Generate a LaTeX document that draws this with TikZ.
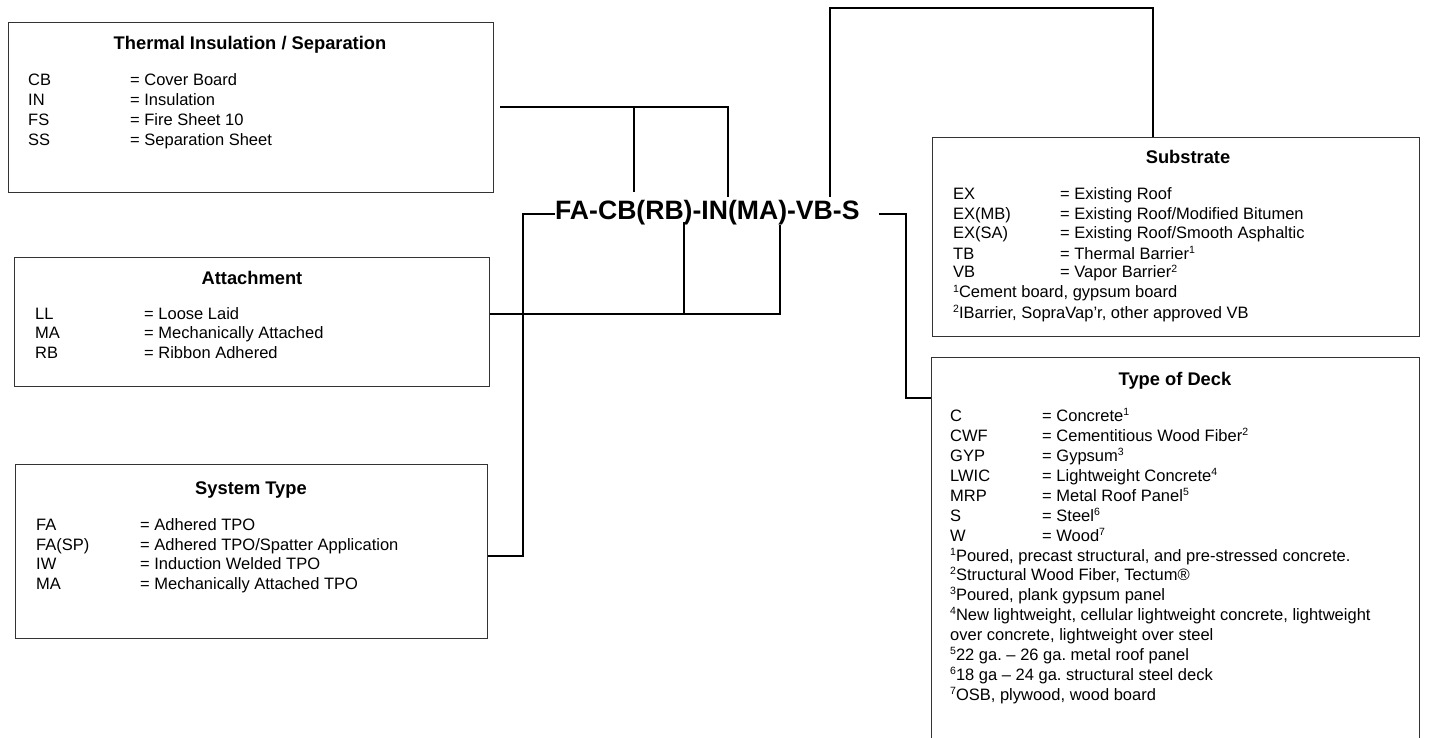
\documentclass[tikz,border=0pt]{standalone}
\usepackage{fontspec}
\setmainfont{Liberation Sans}
\newcommand\fn[1]{\raisebox{5.5pt}{\fontsize{10.5}{11}\selectfont #1}}
\begin{document}
\frenchspacing
\begin{tikzpicture}[x=1pt,y=-1pt,
  box/.style={draw=black!80, line width=1.1pt, anchor=north west, inner sep=0},
  conn/.style={draw=black, line width=1.8pt},
  ttl/.style={anchor=base, inner sep=0, font=\fontsize{18.3}{21}\selectfont\bfseries},
  row/.style={anchor=base west, inner sep=0, font=\fontsize{16.5}{19}\selectfont},
  code/.style={anchor=base west, inner sep=0, font=\fontsize{26.6}{30}\selectfont\bfseries}]
\useasboundingbox (0,0) rectangle (1449,738);
\fill[white] (0,0) rectangle (1449,738);

% ---------- boxes ----------
\node[box, minimum width=485pt, minimum height=170pt] (therm) at (8,22) {};
\node[box, minimum width=475pt, minimum height=129pt] (attach) at (14,257) {};
\node[box, minimum width=472pt, minimum height=174pt] (system) at (15,464) {};
\node[box, minimum width=487pt, minimum height=199pt] (subst) at (932,137) {};
\node[box, minimum width=488pt, minimum height=400pt] (deck) at (931,357) {};

% ---------- Thermal Insulation ----------
\node[ttl] (thermT) at (250,50) {Thermal Insulation / Separation};
\node[row] (th1a) at (28,86) {CB};  \node[row] (th1b) at (130,86) {= Cover Board};
\node[row] (th2a) at (28,106) {IN}; \node[row] (th2b) at (130,106) {= Insulation};
\node[row] (th3a) at (28,126) {FS}; \node[row] (th3b) at (130,126) {= Fire Sheet 10};
\node[row] (th4a) at (28,146) {SS}; \node[row] (th4b) at (130,146) {= Separation Sheet};

% ---------- Attachment ----------
\node[ttl] (attT) at (252,284) {Attachment};
\node[row] (at1a) at (35,319) {LL}; \node[row] (at1b) at (144,319) {= Loose Laid};
\node[row] (at2a) at (35,338) {MA}; \node[row] (at2b) at (144,338) {= Mechanically Attached};
\node[row] (at3a) at (35,358) {RB}; \node[row] (at3b) at (144,358) {= Ribbon Adhered};

% ---------- System Type ----------
\node[ttl] (sysT) at (251,494) {System Type};
\node[row] (sy1a) at (36,530) {FA};     \node[row] (sy1b) at (140,530) {= Adhered TPO};
\node[row] (sy2a) at (36,550) {FA(SP)}; \node[row] (sy2b) at (140,550) {= Adhered TPO/Spatter Application};
\node[row] (sy3a) at (36,569) {IW};     \node[row] (sy3b) at (140,569) {= Induction Welded TPO};
\node[row] (sy4a) at (36,589) {MA};     \node[row] (sy4b) at (140,589) {= Mechanically Attached TPO};

% ---------- Substrate ----------
\node[ttl] (subT) at (1188,164) {Substrate};
\node[row] (su1a) at (953,200) {EX};     \node[row] (su1b) at (1060,200) {= Existing Roof};
\node[row] (su2a) at (953,220) {EX(MB)}; \node[row] (su2b) at (1060,220) {= Existing Roof/Modified Bitumen};
\node[row] (su3a) at (953,239) {EX(SA)}; \node[row] (su3b) at (1060,239) {= Existing Roof/Smooth Asphaltic};
\node[row] (su4a) at (953,259) {TB};     \node[row] (su4b) at (1060,259) {= Thermal Barrier\fn{1}};
\node[row] (su5a) at (953,278) {VB};     \node[row] (su5b) at (1060,278) {= Vapor Barrier\fn{2}};
\node[row] (su6) at (953,298) {\fn{1}Cement board, gypsum board};
\node[row] (su7) at (953,318) {\fn{2}IBarrier, SopraVap’r, other approved VB};

% ---------- Type of Deck ----------
\node[ttl] (deckT) at (1175,385) {Type of Deck};
\node[row] (de1a) at (950,421) {C};    \node[row] (de1b) at (1042,421) {= Concrete\fn{1}};
\node[row] (de2a) at (950,441) {CWF};  \node[row] (de2b) at (1042,441) {= Cementitious Wood Fiber\fn{2}};
\node[row] (de3a) at (950,461) {GYP};  \node[row] (de3b) at (1042,461) {= Gypsum\fn{3}};
\node[row] (de4a) at (950,481) {LWIC}; \node[row] (de4b) at (1042,481) {= Lightweight Concrete\fn{4}};
\node[row] (de5a) at (950,501) {MRP};  \node[row] (de5b) at (1042,501) {= Metal Roof Panel\fn{5}};
\node[row] (de6a) at (950,521) {S};    \node[row] (de6b) at (1042,521) {= Steel\fn{6}};
\node[row] (de7a) at (950,541) {W};    \node[row] (de7b) at (1042,541) {= Wood\fn{7}};
\node[row] (df1) at (950,561) {\fn{1}Poured, precast structural, and pre-stressed concrete.};
\node[row] (df2) at (950,580) {\fn{2}Structural Wood Fiber, Tectum®};
\node[row] (df3) at (950,600) {\fn{3}Poured, plank gypsum panel};
\node[row] (df4) at (950,620) {\fn{4}New lightweight, cellular lightweight concrete, lightweight};
\node[row] (df4b) at (950,640) {over concrete, lightweight over steel};
\node[row] (df5) at (950,660) {\fn{5}22 ga. – 26 ga. metal roof panel};
\node[row] (df6) at (950,680) {\fn{6}18 ga – 24 ga. structural steel deck};
\node[row] (df7) at (950,700) {\fn{7}OSB, plywood, wood board};

% ---------- central code ----------
\node[code] (code) at (555,220) {FA-CB(RB)-IN(MA)-VB-S};

% ---------- connector points ----------
\coordinate (thA) at (500,107);
\coordinate (thB) at (634,107);
\coordinate (thC) at (728,107);
\coordinate (cbT) at (634,192);
\coordinate (inT) at (728,197);
\coordinate (vbT) at (830,197);
\coordinate (suA) at (830,8);
\coordinate (suB) at (1153,8);
\coordinate (sL) at (879,214);
\coordinate (sA) at (906,214);
\coordinate (sB) at (906,398);
\coordinate (faR) at (555,214);
\coordinate (faA) at (523,214);
\coordinate (faB) at (523,556);
\coordinate (atA) at (684,314);
\coordinate (atB) at (780,314);
\coordinate (rbB) at (684,222);
\coordinate (maB) at (780,225);

% ---------- connectors ----------
\draw[conn] (thA) -- (thC) -- (inT);
\draw[conn] (thB) -- (cbT);
\draw[conn] (vbT) -- (suA) -- (suB) -- (subst.north -| suB);
\draw[conn] (sL) -- (sA) -- (sB) -- (deck.west |- sB);
\draw[conn] (faR) -- (faA) -- (faB) -- (system.east |- faB);
\draw[conn] (attach.east |- atA) -- (atB) -- (maB);
\draw[conn] (atA) -- (rbB);
\end{tikzpicture}
\end{document}
